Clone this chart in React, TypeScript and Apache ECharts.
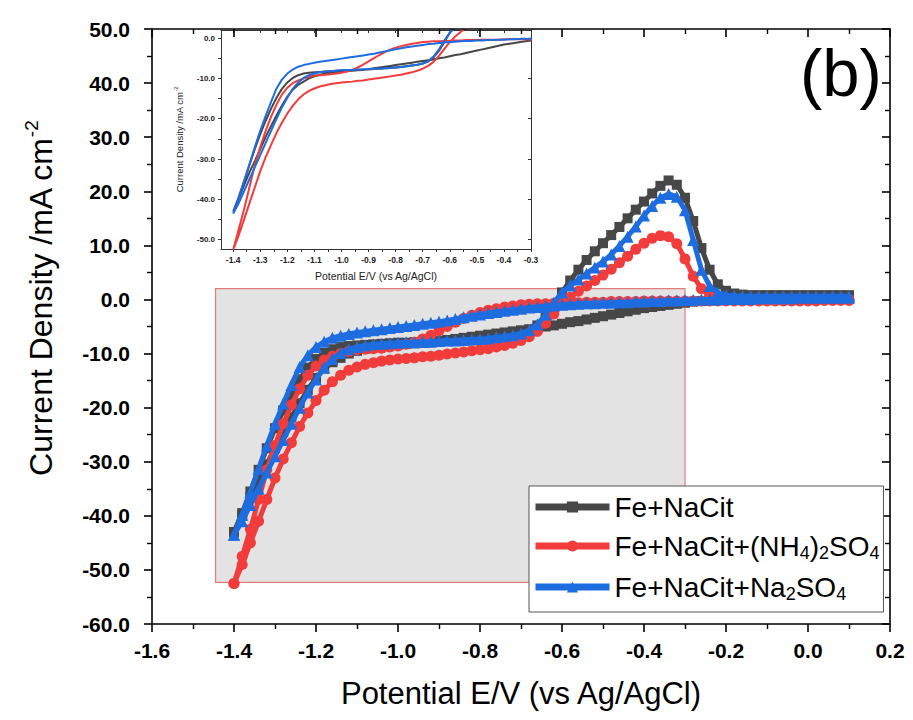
import React, { useEffect, useRef } from "react";
import * as echarts from "echarts";

// Potential grid of the cathodic sweep (V vs Ag/AgCl), from +0.10 down to -1.40
const POTENTIAL = [
  0.10, 0.08, 0.06, 0.04, 0.02, 0.00, -0.02, -0.04, -0.06, -0.08,
  -0.10, -0.12, -0.14, -0.16, -0.18, -0.20, -0.22, -0.24, -0.26, -0.28,
  -0.30, -0.32, -0.34, -0.36, -0.38, -0.40, -0.42, -0.44, -0.46, -0.48,
  -0.50, -0.52, -0.54, -0.56, -0.58, -0.60, -0.62, -0.64, -0.66, -0.68,
  -0.70, -0.72, -0.74, -0.76, -0.78, -0.80, -0.82, -0.84, -0.86, -0.88,
  -0.90, -0.92, -0.94, -0.96, -0.98, -1.00, -1.02, -1.04, -1.06, -1.08,
  -1.10, -1.12, -1.14, -1.16, -1.18, -1.20, -1.22, -1.24, -1.26, -1.28,
  -1.30, -1.32, -1.34, -1.36, -1.38, -1.40,
];

// Current density (mA cm-2). *_CATH follow POTENTIAL order (0.10 -> -1.40);
// *_ANOD follow the reversed order (-1.40 -> 0.10).
const FE_NACIT_CATH = [
  0.2, 0.2, 0.2, 0.2, 0.2, 0.2, 0.2, 0.1, 0.1, 0.1,
  0.1, 0.1, 0.0, 0.0, 0.0, 0.0, -0.1, -0.2, -0.3, -0.4,
  -0.6, -0.8, -1.0, -1.2, -1.4, -1.6, -1.9, -2.2, -2.5, -2.8,
  -3.1, -3.4, -3.7, -4.0, -4.2, -4.5, -4.8, -5.0, -5.3, -5.5,
  -5.7, -5.9, -6.1, -6.3, -6.5, -6.7, -6.9, -7.1, -7.3, -7.5,
  -7.7, -7.9, -8.0, -8.1, -8.2, -8.3, -8.4, -8.6, -8.8, -9.1,
  -9.5, -10.0, -10.8, -11.6, -12.8, -14.5, -16.7, -19.2, -21.8, -24.5,
  -27.5, -30.5, -33.3, -36.5, -40.0, -43.0,
];
const FE_NACIT_ANOD = [
  -43.0, -39.5, -35.5, -31.5, -27.5, -23.8, -20.5, -17.5, -14.8, -12.6,
  -11.0, -9.9, -9.2, -8.8, -8.6, -8.5, -8.4, -8.3, -8.2, -8.1,
  -8.0, -8.0, -7.9, -7.9, -7.8, -7.8, -7.7, -7.6, -7.5, -7.4,
  -7.3, -7.2, -7.0, -6.8, -6.6, -6.3, -5.8, -4.8, -3.2, -1.0,
  1.3, 3.5, 5.5, 7.3, 8.9, 10.4, 11.9, 13.4, 15.0, 16.6,
  18.1, 19.6, 21.0, 22.0, 21.2, 18.8, 14.5, 9.5, 5.5, 2.8,
  1.6, 1.1, 0.9, 0.8, 0.8, 0.8, 0.8, 0.8, 0.8, 0.8,
  0.8, 0.8, 0.8, 0.8, 0.8, 0.8,
];
const FE_NACIT_NH4_CATH = [
  -0.2, -0.2, -0.2, -0.2, -0.3, -0.3, -0.3, -0.3, -0.3, -0.3,
  -0.3, -0.3, -0.3, -0.3, -0.3, -0.3, -0.3, -0.3, -0.3, -0.3,
  -0.3, -0.3, -0.3, -0.3, -0.3, -0.3, -0.4, -0.4, -0.4, -0.4,
  -0.5, -0.5, -0.5, -0.6, -0.6, -0.7, -0.7, -0.8, -0.8, -0.9,
  -1.0, -1.2, -1.4, -1.7, -2.0, -2.4, -2.9, -3.5, -4.2, -5.0,
  -5.8, -6.6, -7.3, -7.9, -8.3, -8.6, -8.8, -9.0, -9.1, -9.2,
  -9.3, -9.6, -10.0, -10.5, -11.2, -12.3, -14.0, -16.5, -19.5, -23.0,
  -27.0, -31.5, -37.0, -42.5, -47.5, -52.5,
];
const FE_NACIT_NH4_ANOD = [
  -52.5, -49.0, -45.0, -41.0, -37.0, -33.0, -29.5, -26.5, -23.5, -21.0,
  -18.7, -16.8, -15.2, -14.0, -13.1, -12.5, -12.0, -11.7, -11.4, -11.2,
  -11.0, -10.9, -10.8, -10.6, -10.5, -10.3, -10.1, -9.9, -9.7, -9.5,
  -9.3, -9.1, -8.8, -8.5, -8.1, -7.6, -6.9, -5.9, -4.4, -2.7,
  -1.0, 0.4, 1.5, 2.5, 3.5, 4.5, 5.6, 6.8, 8.0, 9.3,
  10.4, 11.3, 11.8, 11.6, 10.3, 7.5, 4.3, 2.0, 0.8, 0.3,
  0.1, 0.0, 0.0, 0.0, 0.0, 0.0, 0.0, 0.0, 0.0, 0.0,
  0.0, 0.0, 0.0, 0.0, 0.0, 0.0,
];
const FE_NACIT_NA_CATH = [
  0.3, 0.3, 0.3, 0.3, 0.3, 0.3, 0.3, 0.2, 0.2, 0.2,
  0.2, 0.2, 0.1, 0.1, 0.1, 0.1, 0.0, 0.0, 0.0, -0.1,
  -0.1, -0.2, -0.2, -0.3, -0.3, -0.4, -0.4, -0.5, -0.5, -0.6,
  -0.6, -0.7, -0.7, -0.8, -0.9, -1.0, -1.1, -1.2, -1.4, -1.5,
  -1.7, -1.9, -2.1, -2.3, -2.5, -2.8, -3.0, -3.3, -3.6, -3.9,
  -4.1, -4.3, -4.5, -4.7, -4.9, -5.1, -5.3, -5.5, -5.7, -5.9,
  -6.1, -6.4, -6.7, -7.1, -7.8, -8.8, -10.3, -12.5, -15.8, -19.3,
  -23.0, -27.0, -31.3, -35.6, -39.8, -43.5,
];
const FE_NACIT_NA_ANOD = [
  -43.5, -41.0, -38.0, -35.0, -32.0, -29.0, -26.0, -23.0, -20.0, -17.2,
  -14.8, -12.6, -11.0, -9.9, -9.2, -8.8, -8.5, -8.3, -8.2, -8.1,
  -8.0, -7.9, -7.9, -7.8, -7.8, -7.7, -7.6, -7.6, -7.5, -7.4,
  -7.3, -7.2, -7.0, -6.8, -6.6, -6.3, -5.7, -4.6, -2.8, -0.6,
  1.3, 2.6, 3.7, 4.8, 5.9, 7.0, 8.3, 9.9, 11.6, 13.5,
  15.5, 17.3, 18.8, 19.5, 19.0, 16.5, 11.0, 5.5, 2.5, 1.3,
  0.8, 0.7, 0.6, 0.6, 0.6, 0.6, 0.6, 0.6, 0.6, 0.6,
  0.6, 0.6, 0.6, 0.6, 0.6, 0.6,
];

const SERIES_NAMES = ["Fe+NaCit", "Fe+NaCit+(NH4)2SO4", "Fe+NaCit+Na2SO4"];
const LEGEND_RICH = [
  "{n|Fe+NaCit}",
  "{n|Fe+NaCit+(NH}{s|4}{n|)}{s|2}{n|SO}{s|4}",
  "{n|Fe+NaCit+Na}{s|2}{n|SO}{s|4}",
];
const COLORS = ["#474747", "#f23c3c", "#1d6de0"];
const SYMBOLS = ["rect", "circle", "triangle"];
const SYMBOL_SIZES = [10, 11, 12];

// Main axes
const X_RANGE = [-1.6, 0.2];
const Y_RANGE = [-60, 50];
// Zoomed region (shown as the shaded box and in the inset)
const ZOOM_X = [-1.445, -0.3];
const ZOOM_Y = [-52.3, 2.0];
const INSET_X_LABELS = [-1.4, -1.3, -1.2, -1.1, -1.0, -0.9, -0.8, -0.7, -0.6, -0.5, -0.4, -0.3];
const INSET_X_TICKS = [
  -1.4, -1.35, -1.3, -1.25, -1.2, -1.15, -1.1, -1.05, -1.0, -0.95, -0.9, -0.85,
  -0.8, -0.75, -0.7, -0.65, -0.6, -0.55, -0.5, -0.45, -0.4, -0.35, -0.3,
];
const INSET_Y_LABELS = [0, -10, -20, -30, -40, -50];
const INSET_Y_TICKS = [0, -5, -10, -15, -20, -25, -30, -35, -40, -45, -50];

const FONT = 'Arial, "Liberation Sans", Helvetica, sans-serif';

function buildLoop(cath: number[], anod: number[]) {
  const n = POTENTIAL.length;
  const pts: number[][] = [];
  cath.forEach((j, i) => pts.push([POTENTIAL[i], j]));
  anod.forEach((j, k) => pts.push([POTENTIAL[n - 1 - k], j]));
  return pts;
}

const fmt1 = (v: number) => (Math.abs(v) < 1e-9 ? 0 : v).toFixed(1);

export default function App() {
  const ref = useRef<HTMLDivElement>(null);
  useEffect(() => {
    if (!ref.current) return;
    const chart = echarts.init(ref.current, undefined, { renderer: "svg" });
    const loops = [
      buildLoop(FE_NACIT_CATH, FE_NACIT_ANOD),
      buildLoop(FE_NACIT_NH4_CATH, FE_NACIT_NH4_ANOD),
      buildLoop(FE_NACIT_NA_CATH, FE_NACIT_NA_ANOD),
    ];
    const axisLine = { show: true, onZero: false, lineStyle: { color: "#000", width: 1.6 } };
    const insetLine = { show: true, onZero: false, lineStyle: { color: "#333", width: 1 } };

    const mainSeries = loops.map((d, i) => ({
      name: SERIES_NAMES[i],
      type: "line",
      xAxisIndex: 0,
      yAxisIndex: 0,
      data: d,
      symbol: SYMBOLS[i],
      symbolSize: SYMBOL_SIZES[i],
      showAllSymbol: true,
      lineStyle: { color: COLORS[i], width: 5 },
      itemStyle: { color: COLORS[i] },
      z: 2 + i * 0.1,
      clip: true,
    }));
    const insetSeries = loops.map((d, i) => ({
      name: SERIES_NAMES[i],
      type: "line",
      xAxisIndex: 2,
      yAxisIndex: 2,
      data: d,
      symbol: "none",
      lineStyle: { color: COLORS[i], width: 2 },
      itemStyle: { color: COLORS[i] },
      z: 12 + i * 0.1,
      clip: true,
    }));

    const option: any = {
      animation: false,
      backgroundColor: "#fff",
      textStyle: { fontFamily: FONT },
      grid: [
        { left: 152, right: 23, top: 29, bottom: 96 },
        {
          left: 221, top: 30, width: 310, height: 219, show: true,
          backgroundColor: "#fff", borderWidth: 0, z: 10,
        },
      ],
      xAxis: [
        {
          type: "value", gridIndex: 0, min: X_RANGE[0], max: X_RANGE[1], interval: 0.2,
          position: "bottom",
          axisLine, splitLine: { show: false },
          axisTick: { show: true, inside: false, length: 8, lineStyle: { width: 1.6, color: "#000" } },
          minorTick: { show: true, splitNumber: 2, length: 5, lineStyle: { width: 1.4, color: "#000" } },
          axisLabel: { formatter: fmt1, fontSize: 21, fontWeight: "bold", color: "#000", margin: 16, fontFamily: FONT },
          name: "Potential E/V (vs Ag/AgCl)",
          nameLocation: "middle", nameGap: 54,
          nameTextStyle: { fontSize: 31, color: "#000", fontFamily: FONT },
        },
        {
          type: "value", gridIndex: 0, min: X_RANGE[0], max: X_RANGE[1], interval: 0.2,
          position: "top", z: 15,
          axisLine, splitLine: { show: false },
          axisTick: { show: true, inside: true, length: 8, lineStyle: { width: 1.6, color: "#000" } },
          minorTick: { show: true, splitNumber: 2, length: 5, lineStyle: { width: 1.4, color: "#000" } },
          axisLabel: { show: false },
        },
        {
          type: "value", gridIndex: 1, min: ZOOM_X[0], max: ZOOM_X[1],
          position: "bottom", z: 12,
          axisLine: insetLine, splitLine: { show: false },
          axisTick: { show: true, inside: false, length: 3, customValues: INSET_X_TICKS, lineStyle: { color: "#333" } },
          axisLabel: {
            customValues: INSET_X_LABELS, formatter: fmt1, fontSize: 8.5, fontWeight: "bold",
            color: "#222", margin: 6, fontFamily: FONT,
          },
          name: "Potential E/V (vs Ag/AgCl)",
          nameLocation: "middle", nameGap: 21,
          nameTextStyle: { fontSize: 10.5, color: "#222", fontFamily: FONT },
        },
        {
          type: "value", gridIndex: 1, min: ZOOM_X[0], max: ZOOM_X[1],
          position: "top", z: 12,
          axisLine: insetLine, splitLine: { show: false },
          axisTick: { show: true, inside: true, length: 3, customValues: INSET_X_LABELS, lineStyle: { color: "#333" } },
          axisLabel: { show: false },
        },
      ],
      yAxis: [
        {
          type: "value", gridIndex: 0, min: Y_RANGE[0], max: Y_RANGE[1], interval: 10,
          position: "left",
          axisLine, splitLine: { show: false },
          axisTick: { show: true, inside: false, length: 8, lineStyle: { width: 1.6, color: "#000" } },
          minorTick: { show: true, splitNumber: 2, length: 5, lineStyle: { width: 1.4, color: "#000" } },
          axisLabel: { formatter: fmt1, fontSize: 21, fontWeight: "bold", color: "#000", margin: 22, fontFamily: FONT },
          name: "{a|Current Density /mA cm}{b|-2}",
          nameLocation: "middle", nameGap: 92,
          nameTextStyle: {
            color: "#000", fontFamily: FONT,
            padding: [0, 0, 0, 56],
            rich: {
              a: { fontSize: 32, lineHeight: 38, fontFamily: FONT, color: "#000" },
              b: { fontSize: 19, lineHeight: 19, verticalAlign: "top", fontFamily: FONT, color: "#000" },
            },
          },
        },
        {
          type: "value", gridIndex: 0, min: Y_RANGE[0], max: Y_RANGE[1], interval: 10,
          position: "right",
          axisLine, splitLine: { show: false },
          axisTick: { show: true, inside: true, length: 8, lineStyle: { width: 1.6, color: "#000" } },
          minorTick: { show: true, splitNumber: 2, length: 5, lineStyle: { width: 1.4, color: "#000" } },
          axisLabel: { show: false },
        },
        {
          type: "value", gridIndex: 1, min: ZOOM_Y[0], max: ZOOM_Y[1],
          position: "left", z: 12,
          axisLine: insetLine, splitLine: { show: false },
          axisTick: { show: true, inside: false, length: 3, customValues: INSET_Y_TICKS, lineStyle: { color: "#333" } },
          axisLabel: {
            customValues: INSET_Y_LABELS, formatter: fmt1, fontSize: 8, fontWeight: "bold",
            color: "#222", margin: 6, fontFamily: FONT,
          },
          name: "{a|Current Density /mA cm}{b|-2}",
          nameLocation: "middle", nameGap: 36,
          nameTextStyle: {
            rich: {
              a: { fontSize: 9.5, lineHeight: 12, fontFamily: FONT, color: "#222" },
              b: { fontSize: 6, lineHeight: 6, verticalAlign: "top", fontFamily: FONT, color: "#222" },
            },
          },
        },
        {
          type: "value", gridIndex: 1, min: ZOOM_Y[0], max: ZOOM_Y[1],
          position: "right", z: 12,
          axisLine: insetLine, splitLine: { show: false },
          axisTick: { show: true, inside: true, length: 3, customValues: INSET_Y_LABELS, lineStyle: { color: "#333" } },
          axisLabel: { show: false },
        },
      ],
      legend: {
        data: SERIES_NAMES,
        orient: "vertical",
        left: 529,
        top: 486,
        padding: [7, 4, 9, 3],
        itemGap: 11,
        itemWidth: 74,
        itemHeight: 14,
        backgroundColor: "#fff",
        borderColor: "#555",
        borderWidth: 1,
        borderRadius: 0,
        lineStyle: { width: 7 },
        formatter: (name: string) => LEGEND_RICH[SERIES_NAMES.indexOf(name)],
        textStyle: {
          color: "#000",
          fontFamily: FONT,
          rich: {
            n: { fontSize: 28, lineHeight: 32, fontFamily: FONT, color: "#000" },
            s: { fontSize: 18, lineHeight: 18, verticalAlign: "bottom", fontFamily: FONT, color: "#000" },
          },
        },
        z: 20,
      },
      graphic: [
        {
          type: "text",
          left: 800,
          top: 39,
          style: { text: "(b)", fontSize: 67, fontFamily: FONT, fill: "#000" },
          z: 20,
        },
      ],
      series: [
        ...mainSeries,
        {
          name: "zoom-region",
          type: "line",
          xAxisIndex: 0,
          yAxisIndex: 0,
          data: [],
          z: 5,
          silent: true,
          markArea: {
            silent: true,
            itemStyle: { color: "rgba(195,195,195,0.46)", borderColor: "#e57b7b", borderWidth: 1.2 },
            data: [[{ coord: [ZOOM_X[0], ZOOM_Y[1]] }, { coord: [ZOOM_X[1], ZOOM_Y[0]] }]],
          },
        },
        ...insetSeries,
      ],
    };
    chart.setOption(option);
    return () => chart.dispose();
  }, []);
  return (
    <div
      ref={ref}
      style={{ position: "absolute", left: 0, top: 0, width: 913, height: 720 }}
    />
  );
}
